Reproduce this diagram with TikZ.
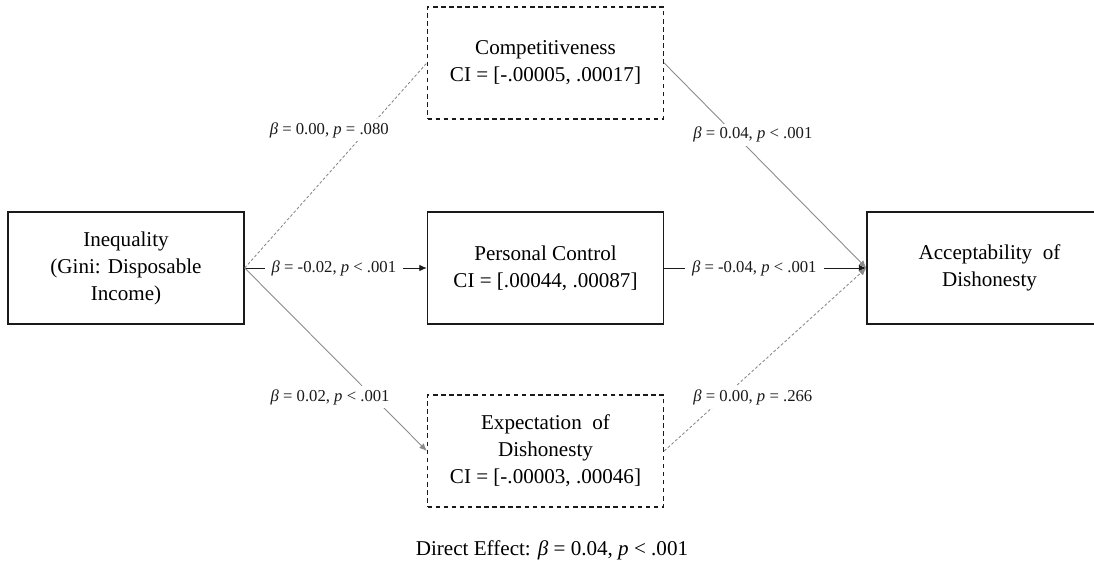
\documentclass[tikz,border=0pt]{standalone}
\usepackage{fontspec}
\setmainfont{Liberation Serif}
\usepackage{xcolor}
\usetikzlibrary{arrows.meta,positioning,calc}
\definecolor{medink}{HTML}{1A1A1A}
\definecolor{medgrey}{HTML}{8A8A8A}

\begin{document}
\begin{tikzpicture}[
      var/.style={draw=medink, line width=0.8pt, inner sep=0pt, align=center,
                 minimum width=4.72cm, minimum height=2.24cm, font=\fontsize{12}{15.4}\selectfont},
      nsvar/.style={var, dash pattern=on 2.6pt off 2pt},
      lbl/.style={fill=white, text=medink, inner xsep=4pt, inner ysep=2pt, font=\fontsize{9.5}{11}\selectfont},
      arr/.style={-{Latex[length=1.5mm,width=1.3mm]}, line width=0.5pt, medgrey},
      harr/.style={arr, medink},
      nsarr/.style={line width=0.5pt, medgrey, dash pattern=on 1.6pt off 1.2pt},
      nsarrh/.style={nsarr, -{Latex[length=1.5mm,width=1.3mm]}}]
    \useasboundingbox (0,0) rectangle (21.88,11.36);
    \node[var]   (ineq) at (2.52,6.00)  {Inequality\\(Gini: Disposable\\Income)};
    \node[nsvar] (comp) at (10.91,10.10) {Competitiveness\\CI = [-.00005, .00017]};
    \node[var]   (ctrl) at (10.91,6.00)  {Personal Control\\CI = [.00044, .00087]};
    \node[nsvar] (expd) at (10.91,2.34)  {Expectation\ \ of\\Dishonesty\\CI = [-.00003, .00046]};
    \node[var, minimum width=4.9cm] (accp) at (19.79,6.00) {Acceptability\ \ of\\Dishonesty};
    % a paths
    \draw[nsarr] (ineq.east) -- node[lbl, pos=0.673, xshift=-0.76cm] {\textit{β} = 0.00, \textit{p} = .080} (comp.west);
    \draw[harr]  (ineq.east) -- node[lbl, pos=0.49] {\textit{β} = -0.02, \textit{p} < .001} (ctrl.west);
    \draw[arr]   (ineq.east) -- node[lbl, pos=0.705, xshift=-0.86cm] {\textit{β} = 0.02, \textit{p} < .001} (expd.west);
    % b paths
    \draw[arr]    (comp.east) -- node[lbl, pos=0.35, xshift=0.36cm] {\textit{β} = 0.04, \textit{p} < .001} (accp.west);
    \draw[harr]   (ctrl.east) -- node[lbl, pos=0.446] {\textit{β} = -0.04, \textit{p} < .001} (accp.west);
    \draw[nsarrh] (expd.east) -- node[lbl, pos=0.295, xshift=0.58cm] {\textit{β} = 0.00, \textit{p} = .266} (accp.west);
    \node[font=\fontsize{12}{14}\selectfont] (direct) at (11.04,0.36)
      {Direct Effect: \textit{β} = 0.04, \textit{p} < .001};
  \end{tikzpicture}
\end{document}
